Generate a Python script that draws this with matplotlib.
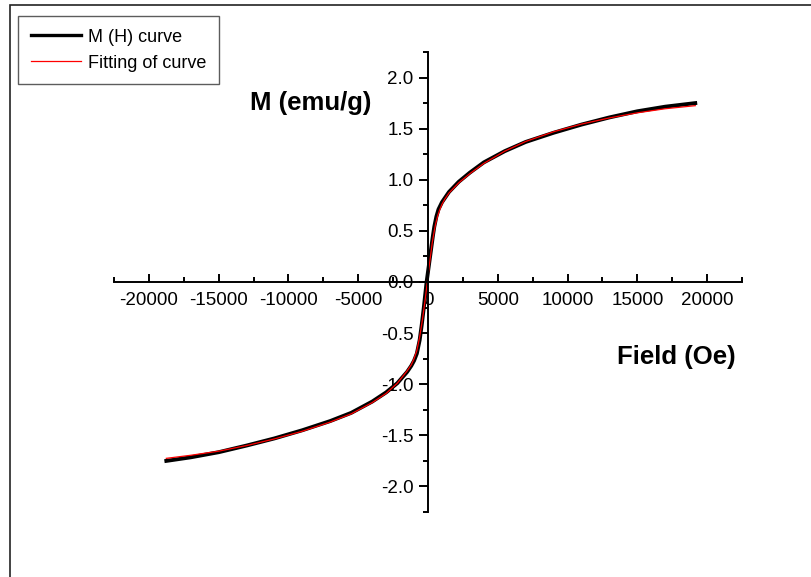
import matplotlib
matplotlib.use("Agg")
import matplotlib.pyplot as plt
from matplotlib.patches import Rectangle
from matplotlib.ticker import MultipleLocator

plt.rcParams['font.family'] = ['Liberation Sans', 'DejaVu Sans']

# M(H) curve (field in Oe, magnetisation in emu/g)
field_meas = [-18750, -17000, -15000, -13000, -11000, -9000, -7000, -5500, -4000,
              -3000, -2200, -1500, -1200, -1000, -800, -600, -450, -300, -100, 100,
              250, 350, 450, 600, 750, 1000, 1200,
              1500, 2200, 3000, 4000, 5500, 7000, 9000, 11000, 13000, 15000, 17000, 19150]
m_meas = [-1.75, -1.715, -1.665, -1.60, -1.53, -1.45, -1.36, -1.28, -1.17,
          -1.08, -0.99, -0.88, -0.82, -0.77, -0.70, -0.57, -0.42, -0.25, 0.0, 0.2,
          0.35, 0.45, 0.54, 0.64, 0.71, 0.78, 0.82,
          0.88, 0.98, 1.07, 1.17, 1.28, 1.37, 1.46, 1.54, 1.61, 1.67, 1.715, 1.75]

# fitted curve
field_fit = [-18750, -17000, -15000, -13000, -11000, -9000, -7000, -5500, -4000,
             -3000, -2200, -1500, -1200, -1000, -800, -600, -400, -200, -50, 100,
             300, 450, 550, 700, 850, 1000, 1200,
             1500, 2200, 3000, 4000, 5500, 7000, 9000, 11000, 13000, 15000, 17000, 19150]
m_fit = [-1.725, -1.695, -1.655, -1.60, -1.535, -1.46, -1.37, -1.29, -1.18,
         -1.09, -0.99, -0.87, -0.81, -0.75, -0.67, -0.54, -0.37, -0.17, 0.0, 0.17,
         0.38, 0.5, 0.57, 0.65, 0.71, 0.76, 0.81,
         0.87, 0.97, 1.06, 1.16, 1.28, 1.375, 1.47, 1.545, 1.605, 1.655, 1.695, 1.725]

W, H = 811, 577
fig = plt.figure(figsize=(W / 100, H / 100), dpi=100)

# outer frame (left and top edges visible)
fig.add_artist(Rectangle((10 / W, -0.1), 1.2, 1 - 5 / H + 0.1, transform=fig.transFigure,
                         fill=False, edgecolor='#222222', linewidth=1.2))

ax = fig.add_axes([114 / W, (H - 512) / H, 628 / W, 460 / H])
ax.set_xlim(-22500, 22500)
ax.set_ylim(-2.25, 2.25)

ax.plot(field_meas, m_meas, color='black', linewidth=2.8, label='M (H) curve')
ax.plot(field_fit, m_fit, color='red', linewidth=0.9, label='Fitting of curve')

for s in ['top', 'right']:
    ax.spines[s].set_visible(False)
ax.spines['left'].set_position(('data', 0))
ax.spines['bottom'].set_position(('data', 0))
ax.spines['left'].set_linewidth(1.4)
ax.spines['bottom'].set_linewidth(1.4)

ax.xaxis.set_minor_locator(MultipleLocator(2500))
ax.yaxis.set_minor_locator(MultipleLocator(0.25))
ax.set_xticks(range(-20000, 20001, 5000))
ax.set_xticklabels([str(v) for v in range(-20000, 20001, 5000)])
ax.set_yticks([-2.0, -1.5, -1.0, -0.5, 0.0, 0.5, 1.0, 1.5, 2.0])
ax.set_yticklabels(['%.1f' % v for v in [-2.0, -1.5, -1.0, -0.5, 0.0, 0.5, 1.0, 1.5, 2.0]])

ax.tick_params(axis='x', which='major', direction='in', length=6, width=1.4, pad=7, labelsize=13.5)
ax.tick_params(axis='x', which='minor', direction='in', length=3.5, width=1.4)
ax.tick_params(axis='y', which='major', direction='out', length=6.5, width=1.4, pad=4, labelsize=13.5)
ax.tick_params(axis='y', which='minor', direction='out', length=3.5, width=1.4)

fig.text(250 / W, 1 - 103 / H, 'M (emu/g)', fontsize=18.5, fontweight='bold', va='center', ha='left')
fig.text(617 / W, 1 - 357 / H, 'Field (Oe)', fontsize=18.5, fontweight='bold', va='center', ha='left')

leg = ax.legend(loc='upper left', bbox_to_anchor=(18 / W, 1 - 16 / H), bbox_transform=fig.transFigure,
                fontsize=13, frameon=True, fancybox=False, borderaxespad=0, handlelength=2.8,
                handletextpad=0.4, labelspacing=0.5, borderpad=0.7)
leg.get_frame().set_edgecolor('#333333')
leg.get_frame().set_linewidth(1.0)
leg.get_lines()[0].set_linewidth(2.4)

fig.savefig('out.png', dpi=100)
